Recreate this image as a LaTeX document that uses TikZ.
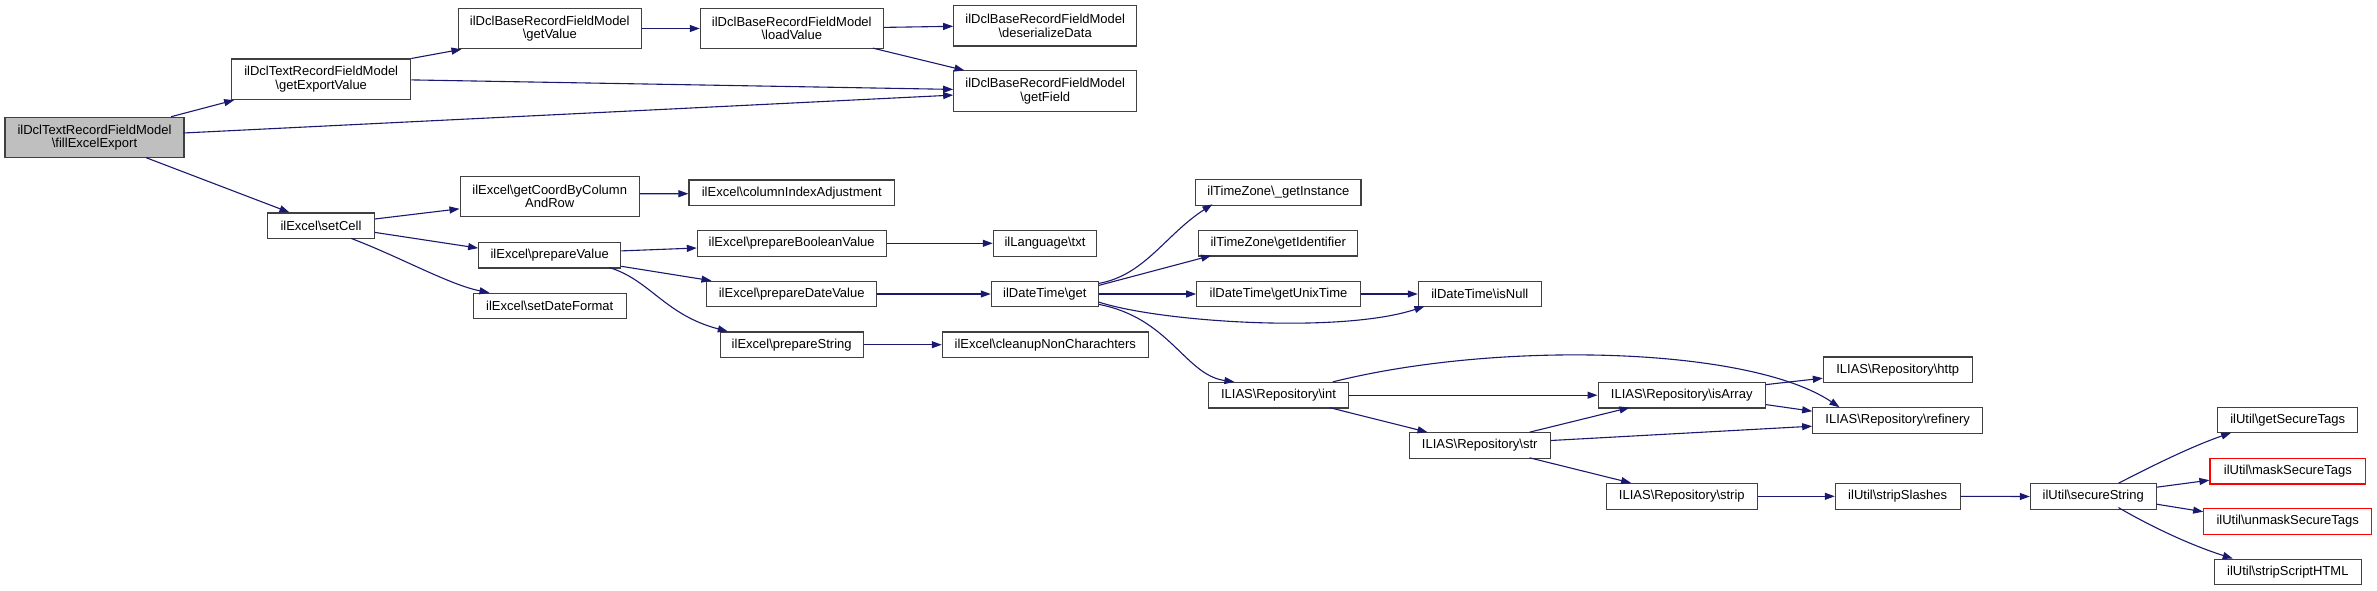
\documentclass[tikz,border=0pt]{standalone}
\usepackage{fontspec}
\setmainfont{Liberation Sans}
\usetikzlibrary{arrows.meta,calc}
\definecolor{edgec}{HTML}{191970}
\definecolor{boxc}{HTML}{404040}
\definecolor{rootc}{HTML}{BFBFBF}
\begin{document}
\begin{tikzpicture}[x=1pt,y=-1pt,
  box/.style={draw=boxc, line width=1.1pt, fill=white, inner sep=0pt, align=center,
    font=\fontsize{13}{13.5}\selectfont, minimum height=25.5pt},
  two/.style={minimum height=40.5pt},
  redbox/.style={draw=red},
  edge/.style={draw=edgec, line width=1.1pt, -{Triangle[length=10pt,width=7pt]}}]
\useasboundingbox (0,0) rectangle (2377,591);
\fill[white] (0,0) rectangle (2377,591);
% nodes
\node[box,two,fill=rootc,minimum width=179pt] (root) at (94.5,137.5) {ilDclTextRecordFieldModel\\\textbackslash fillExcelExport};
\node[box,two,minimum width=179pt] (gev) at (321.2,79.3) {ilDclTextRecordFieldModel\\\textbackslash getExportValue};
\node[box,two,minimum width=183pt] (gv) at (549.8,28.5) {ilDclBaseRecordFieldModel\\\textbackslash getValue};
\node[box,two,minimum width=183pt] (lv) at (791.8,28.5) {ilDclBaseRecordFieldModel\\\textbackslash loadValue};
\node[box,two,minimum width=183pt] (dd) at (1045.2,25.8) {ilDclBaseRecordFieldModel\\\textbackslash deserializeData};
\node[box,two,minimum width=183pt] (gf) at (1045.2,91.2) {ilDclBaseRecordFieldModel\\\textbackslash getField};
\node[box,minimum width=106.6pt] (sc) at (321,225.7) {ilExcel\textbackslash setCell};
\node[box,two,minimum width=179.3pt] (gc) at (549.7,196.3) {ilExcel\textbackslash getCoordByColumn\\AndRow};
\node[box,minimum width=142pt] (pv) at (549.7,255.2) {ilExcel\textbackslash prepareValue};
\node[box,minimum width=152.7pt] (sdf) at (549.7,306) {ilExcel\textbackslash setDateFormat};
\node[box,minimum width=205.7pt] (cia) at (791.8,192.7) {ilExcel\textbackslash columnIndexAdjustment};
\node[box,minimum width=188.7pt] (pbv) at (791.7,243.3) {ilExcel\textbackslash prepareBooleanValue};
\node[box,minimum width=170pt] (pdv) at (791.7,294) {ilExcel\textbackslash prepareDateValue};
\node[box,minimum width=142.7pt] (ps) at (791.7,344.7) {ilExcel\textbackslash prepareString};
\node[box,minimum width=103.4pt] (txt) at (1045,243.3) {ilLanguage\textbackslash txt};
\node[box,minimum width=107pt] (dtg) at (1044.8,294) {ilDateTime\textbackslash get};
\node[box,minimum width=206pt] (cnc) at (1045.3,344.7) {ilExcel\textbackslash cleanupNonCharachters};
\node[box,minimum width=165.3pt] (tzi) at (1278.3,192.3) {ilTimeZone\textbackslash \_getInstance};
\node[box,minimum width=159pt] (tzid) at (1278.2,243.2) {ilTimeZone\textbackslash getIdentifier};
\node[box,minimum width=163.6pt] (gut) at (1278.5,294) {ilDateTime\textbackslash getUnixTime};
\node[box,minimum width=123pt] (isn) at (1479.8,294) {ilDateTime\textbackslash isNull};
\node[box,minimum width=140.4pt] (rint) at (1278.5,395.2) {ILIAS\textbackslash Repository\textbackslash int};
\node[box,minimum width=141.3pt] (rstr) at (1479.7,445.5) {ILIAS\textbackslash Repository\textbackslash str};
\node[box,minimum width=167.3pt] (rarr) at (1681.7,395.2) {ILIAS\textbackslash Repository\textbackslash isArray};
\node[box,minimum width=151pt] (rstrip) at (1681.8,496.3) {ILIAS\textbackslash Repository\textbackslash strip};
\node[box,minimum width=148.7pt] (rhttp) at (1897.7,369.7) {ILIAS\textbackslash Repository\textbackslash http};
\node[box,minimum width=170pt] (rref) at (1897.7,420.5) {ILIAS\textbackslash Repository\textbackslash refinery};
\node[box,minimum width=124.7pt] (uss) at (1897.7,496.3) {ilUtil\textbackslash stripSlashes};
\node[box,minimum width=125.7pt] (usec) at (2093.2,496.5) {ilUtil\textbackslash secureString};
\node[box,minimum width=140pt] (ugst) at (2287.7,420) {ilUtil\textbackslash getSecureTags};
\node[box,redbox,minimum width=155.7pt] (umst) at (2287.8,471.2) {ilUtil\textbackslash maskSecureTags};
\node[box,redbox,minimum width=168pt] (uumst) at (2287.7,521.3) {ilUtil\textbackslash unmaskSecureTags};
\node[box,minimum width=147pt] (ussh) at (2287.8,571.8) {ilUtil\textbackslash stripScriptHTML};
% edges
\draw[edge] ($(root.north west)+(166.7,0)$) -- ($(gev.south west)+(3,0)$);
\draw[edge] ($(root.north west)+(179,16.3)$) -- ($(gf.north west)+(0,24.7)$);
\draw[edge] ($(root.north west)+(141.7,41)$) -- ($(sc.north west)+(22.3,0)$);
\draw[edge] (gev.north east) -- ($(gv.south west)+(3.7,0)$);
\draw[edge] ($(gev.north east)+(0,21.4)$) -- ($(gf.north west)+(0,19)$);
\draw[edge] (gv.east) -- (lv.west);
\draw[edge] ($(lv.north east)+(0,19.7)$) -- ($(dd.north west)+(0,21.3)$);
\draw[edge] ($(lv.north west)+(173,40.4)$) -- ($(gf.north west)+(11.3,0)$);
\draw[edge] ($(sc.north east)+(0,6.6)$) -- ($(gc.north west)+(0,33.3)$);
\draw[edge] ($(sc.north east)+(0,20)$) -- ($(pv.north west)+(0,6.2)$);
\draw[edge] ($(sc.north west)+(84,26)$) .. controls (400,257) and (450,285) .. ($(sdf.north west)+(16.7,0)$);
\draw[edge] ($(gc.north east)+(0,18.3)$) -- ($(cia.north west)+(0,14.3)$);
\draw[edge] ($(pv.north east)+(0,9)$) -- ($(pbv.north west)+(0,18)$);
\draw[edge] ($(pv.north east)+(0,24.4)$) -- ($(pdv.north west)+(5.3,0)$);
\draw[edge] ($(pv.north west)+(131.3,25.7)$) .. controls (650,280) and (665,315) .. ($(ps.north west)+(8,0)$);
\draw[edge] (pbv.east) -- (txt.west);
\draw[edge] (pdv.east) -- (dtg.west);
\draw[edge] (ps.east) -- (cnc.west);
\draw[edge] ($(dtg.north east)+(0,2.7)$) .. controls (1145,275) and (1165,235) .. ($(tzi.north west)+(17.3,25.3)$);
\draw[edge] ($(dtg.north east)+(0,4.7)$) -- ($(tzid.north west)+(13,25.7)$);
\draw[edge] (dtg.east) -- (gut.west);
\draw[edge] ($(dtg.north east)+(0,21.4)$) .. controls (1160,322) and (1340,334) .. ($(isn.north west)+(6.7,25.7)$);
\draw[edge] ($(dtg.north east)+(0,23.7)$) .. controls (1170,318) and (1185,375) .. ($(rint.north west)+(26.7,0)$);
\draw[edge] (gut.east) -- (isn.west);
\draw[edge] (rint.east) -- (rarr.west);
\draw[edge] ($(rint.north west)+(121.7,25.7)$) -- ($(rstr.north west)+(19,0)$);
\draw[edge] ($(rint.north west)+(125,0)$) .. controls (1500,340) and (1750,347) .. ($(rref.north west)+(27.3,0)$);
\draw[edge] ($(rstr.north west)+(121,0)$) -- ($(rarr.north west)+(32,25.7)$);
\draw[edge] ($(rstr.north east)+(0,8.3)$) -- ($(rref.north west)+(0,19)$);
\draw[edge] ($(rstr.north west)+(121,25.6)$) -- ($(rstrip.north west)+(25.4,0)$);
\draw[edge] ($(rarr.north east)+(0,2.7)$) -- ($(rhttp.north west)+(0,21.8)$);
\draw[edge] ($(rarr.north east)+(0,22.7)$) -- ($(rref.north west)+(0,4)$);
\draw[edge] (rstrip.east) -- (uss.west);
\draw[edge] (uss.east) -- (usec.west);
\draw[edge] ($(usec.north west)+(88.7,0)$) .. controls (2150,467) and (2190,447) .. ($(ugst.north west)+(14,26)$);
\draw[edge] ($(usec.north east)+(0,4)$) -- ($(umst.north west)+(0,22.3)$);
\draw[edge] ($(usec.north east)+(0,21)$) -- ($(uumst.north west)+(0,3.7)$);
\draw[edge] ($(usec.north west)+(88.7,24.4)$) .. controls (2150,526) and (2190,545) .. ($(ussh.north west)+(19,0)$);
\end{tikzpicture}
\end{document}
